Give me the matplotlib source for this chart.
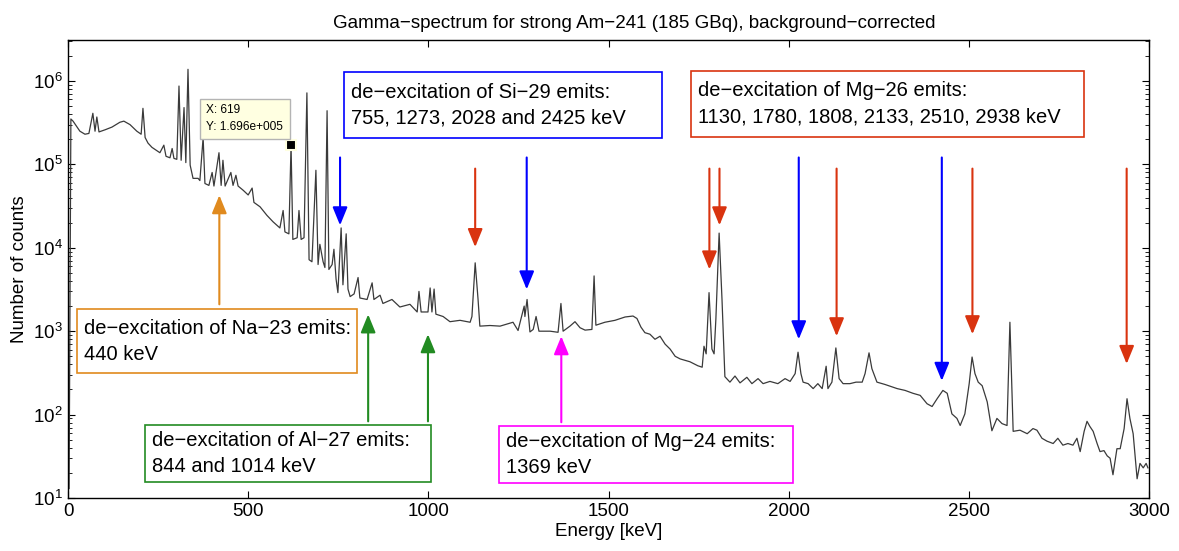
import matplotlib
matplotlib.use("Agg")
import matplotlib.pyplot as plt
from matplotlib.patches import Rectangle
from matplotlib.ticker import LogLocator, NullFormatter

plt.rcParams['font.family'] = ['Liberation Sans', 'DejaVu Sans']
plt.rcParams['mathtext.fontset'] = 'custom'
plt.rcParams['mathtext.rm'] = 'Liberation Sans'
plt.rcParams['mathtext.it'] = 'Liberation Sans:italic'
plt.rcParams['mathtext.bf'] = 'Liberation Sans:bold'

# spectrum (energy in keV, counts)
energy_kev = [
    3, 8, 14, 33, 47, 58, 69, 75, 80, 86, 103, 122, 144, 155, 172, 191, 203, 208, 214, 222,
    233, 255, 266, 272, 283, 289, 294, 302, 308, 314, 322, 327, 333, 339, 347, 361, 366, 375,
    380, 391, 400, 405, 419, 425, 430, 436, 452, 458, 466, 472, 486, 500, 511, 516, 533, 552,
    569, 588, 597, 602, 613, 619, 624, 636, 641, 647, 655, 663, 669, 677, 688, 694, 699, 708,
    713, 719, 724, 733, 738, 744, 749, 758, 763, 772, 777, 783, 794, 805, 810, 830, 844, 849,
    866, 874, 899, 921, 949, 969, 974, 980, 999, 1005, 1010, 1016, 1021, 1041, 1060, 1088,
    1116, 1121, 1130, 1138, 1143, 1171, 1199, 1235, 1249, 1257, 1266, 1268, 1274, 1282, 1291,
    1299, 1307, 1338, 1360, 1368, 1374, 1393, 1407, 1421, 1435, 1454, 1460, 1465, 1490, 1518,
    1546, 1568, 1579, 1590, 1601, 1615, 1629, 1643, 1657, 1671, 1685, 1699, 1726, 1748, 1760,
    1765, 1771, 1779, 1787, 1793, 1798, 1807, 1815, 1823, 1837, 1851, 1865, 1884, 1898, 1915,
    1929, 1948, 1970, 1990, 2004, 2018, 2026, 2034, 2040, 2054, 2068, 2081, 2093, 2104, 2109,
    2120, 2131, 2140, 2151, 2170, 2187, 2204, 2212, 2223, 2231, 2245, 2267, 2301, 2323, 2345,
    2365, 2384, 2398, 2412, 2428, 2440, 2453, 2467, 2476, 2489, 2501, 2509, 2517, 2526, 2537,
    2551, 2564, 2578, 2592, 2606, 2614, 2623, 2642, 2662, 2678, 2689, 2703, 2717, 2734, 2747,
    2761, 2775, 2789, 2800, 2809, 2820, 2828, 2836, 2845, 2856, 2864, 2875, 2884, 2892, 2900,
    2911, 2920, 2931, 2939, 2947, 2956, 2967, 2975, 2984, 2992, 2997]
counts = [
    13, 3.5e5, 3.3e5, 2.5e5, 2.3e5, 2.35e5, 4.1e5, 2.5e5, 3.7e5, 2.45e5, 2.6e5, 2.8e5, 3.2e5,
    3.3e5, 3.0e5, 2.5e5, 2.3e5, 4.7e5, 2.1e5, 1.8e5, 1.6e5, 1.38e5, 1.7e5, 1.25e5, 1.2e5,
    1.55e5, 1.18e5, 1.15e5, 8.7e5, 1.12e5, 4.8e5, 1.05e5, 1.38e6, 9.8e4, 6.8e4, 6.8e4, 6.4e4,
    2.1e5, 5.9e4, 5.6e4, 8.0e4, 5.5e4, 1.38e5, 5.6e4, 1.12e5, 5.5e4, 8.0e4, 5.6e4, 7.4e4,
    5.5e4, 4.9e4, 4.3e4, 5.2e4, 3.5e4, 3.1e4, 2.45e4, 2.05e4, 1.73e4, 2.8e4, 1.55e4, 1.47e4,
    1.696e5, 1.26e4, 1.32e4, 2.8e4, 1.26e4, 1.32e4, 7.2e5, 7.2e3, 6.8e3, 8.5e4, 6.3e3, 1.1e4,
    6.8e3, 5.8e3, 4.4e5, 5.5e3, 6.3e3, 9.6e3, 4.2e3, 2.9e3, 1.73e4, 3.6e3, 1.47e4, 3.2e3,
    2.6e3, 2.8e3, 4.4e3, 2.5e3, 2.4e3, 3.8e3, 2.4e3, 2.7e3, 2.15e3, 2.4e3, 1.95e3, 2.1e3,
    1.7e3, 3.0e3, 1.7e3, 1.7e3, 3.3e3, 1.7e3, 3.2e3, 1.6e3, 1.5e3, 1.3e3, 1.35e3, 1.28e3,
    1.5e3, 6.6e3, 2.4e3, 1.15e3, 1.17e3, 1.15e3, 1.28e3, 1.02e3, 1.4e3, 2.0e3, 1.5e3, 2.4e3,
    980, 1.05e3, 1.5e3, 1.0e3, 1.0e3, 970, 2.15e3, 1.0e3, 1.15e3, 1.3e3, 1.1e3, 1.03e3,
    1.05e3, 4.6e3, 1.18e3, 1.28e3, 1.35e3, 1.48e3, 1.52e3, 1.42e3, 1.12e3, 960, 920, 800,
    870, 700, 610, 500, 465, 430, 385, 370, 660, 535, 2.9e3, 610, 535, 1.4e3, 1.5e4, 2.4e3,
    285, 245, 290, 240, 280, 235, 270, 235, 250, 235, 270, 250, 310, 560, 310, 245, 235, 205,
    235, 205, 380, 205, 245, 630, 270, 235, 235, 245, 245, 310, 550, 355, 245, 230, 205, 195,
    180, 170, 135, 125, 155, 195, 180, 102, 90, 74, 102, 235, 490, 310, 245, 222, 142, 64,
    90, 78, 74, 1.28e3, 63, 65, 59, 68, 65, 52, 48, 45, 52, 43, 45, 43, 52, 36, 63, 83, 72,
    63, 45, 36, 37, 32, 30, 19, 39, 39, 68, 155, 90, 59, 17, 26, 23, 26, 23]

# datatip
tip_energy = 619
tip_counts = 1.696e5

# annotation texts
si29_text = ["de\u2212excitation of Si\u221229 emits:", "755, 1273, 2028 and 2425 keV"]
mg26_text = ["de\u2212excitation of Mg\u221226 emits:", "1130, 1780, 1808, 2133, 2510, 2938 keV"]
na23_text = ["de\u2212excitation of Na\u221223 emits:", "440 keV"]
al27_text = ["de\u2212excitation of Al\u221227 emits:", "844 and 1014 keV"]
mg24_text = ["de\u2212excitation of Mg\u221224 emits:", "1369 keV"]

BLUE = '#0000FF'
RED = '#D9330F'
ORANGE = '#E08A1E'
GREEN = '#228B22'
MAGENTA = '#FF00FF'

W, H = 1179, 551
fig = plt.figure(figsize=(W / 100, H / 100), dpi=100)
ax = fig.add_axes([68 / W, 1 - 498 / H, 1081 / W, 458 / H])

ax.plot(energy_kev, counts, color='#3a3a3a', lw=0.9)
ax.set_yscale('log')
ax.set_xlim(0, 3000)
ax.set_ylim(10, 3.1e6)
ax.set_xticks([0, 500, 1000, 1500, 2000, 2500, 3000])
ax.yaxis.set_major_locator(LogLocator(base=10, numticks=10))
ax.yaxis.set_minor_locator(LogLocator(base=10, subs=range(2, 10), numticks=20))
ax.yaxis.set_minor_formatter(NullFormatter())
ax.tick_params(which='both', direction='in', top=True, right=True, labelsize=13.5)
ax.tick_params(which='major', length=5)
ax.tick_params(which='minor', length=3)
for s in ax.spines.values():
    s.set_linewidth(1.0)

ax.set_title("Gamma\u2212spectrum for strong Am\u2212241 (185 GBq), background\u2212corrected",
             fontsize=13.5, pad=9, x=0.524)
ax.set_xlabel("Energy [keV]", fontsize=13.5, labelpad=2)
ax.set_ylabel("Number of counts", fontsize=13.5, labelpad=4)


def arrow(x, y_from, y_to, color):
    ax.annotate('', xy=(x, y_to), xytext=(x, y_from),
                arrowprops=dict(arrowstyle='-|>,head_length=1.1,head_width=0.45',
                                color=color, lw=1.5, shrinkA=0, shrinkB=0,
                                mutation_scale=10))


# downward arrows
for e, tip in [(755, 1.86e4), (1273, 3.17e3), (2028, 800), (2425, 254)]:
    arrow(e, 1.21e5, tip, BLUE)
for e, tip in [(1130, 1.02e4), (1780, 5.5e3), (1808, 1.86e4), (2133, 870), (2510, 920), (2938, 405)]:
    arrow(e, 8.9e4, tip, RED)
# upward arrows
arrow(420, 2.1e3, 4.27e4, ORANGE)
arrow(833, 83, 1.59e3, GREEN)
arrow(999, 83, 920, GREEN)
arrow(1369, 81, 870, MAGENTA)


def label_box(x0, y0, x1, y1, lines, color):
    fig.patches.append(Rectangle((x0 / W, 1 - y1 / H), (x1 - x0) / W, (y1 - y0) / H,
                                 transform=fig.transFigure, facecolor='white',
                                 edgecolor=color, lw=1.2, zorder=5))
    mid = (y0 + y1) / 2
    fig.text((x0 + 7) / W, 1 - (mid - 13) / H, lines[0], fontsize=14.5, va='center', zorder=6)
    fig.text((x0 + 7) / W, 1 - (mid + 13) / H, lines[1], fontsize=14.5, va='center', zorder=6)


label_box(344, 72, 662, 138, si29_text, BLUE)
label_box(691, 71, 1084, 137, mg26_text, RED)
label_box(77, 309, 357, 373, na23_text, ORANGE)
label_box(145, 425, 431, 482, al27_text, GREEN)
label_box(499, 426, 793, 483, mg24_text, MAGENTA)

# datatip
ax.plot([tip_energy], [tip_counts], 's', color='black', ms=7, mec='#FFFFE0', mew=1.5, zorder=7)
fig.patches.append(Rectangle((200 / W, 1 - 139 / H), 90 / W, 40 / H, transform=fig.transFigure,
                             facecolor='#FFFFE1', edgecolor='#B4B4B4', lw=1, zorder=5))
fig.text(206 / W, 1 - 110 / H, "X: %d" % tip_energy, fontsize=8.6, va='center', zorder=6)
fig.text(206 / W, 1 - 127 / H, "Y: 1.696e+005", fontsize=8.6, va='center', zorder=6)

fig.savefig("out.png", dpi=100)
